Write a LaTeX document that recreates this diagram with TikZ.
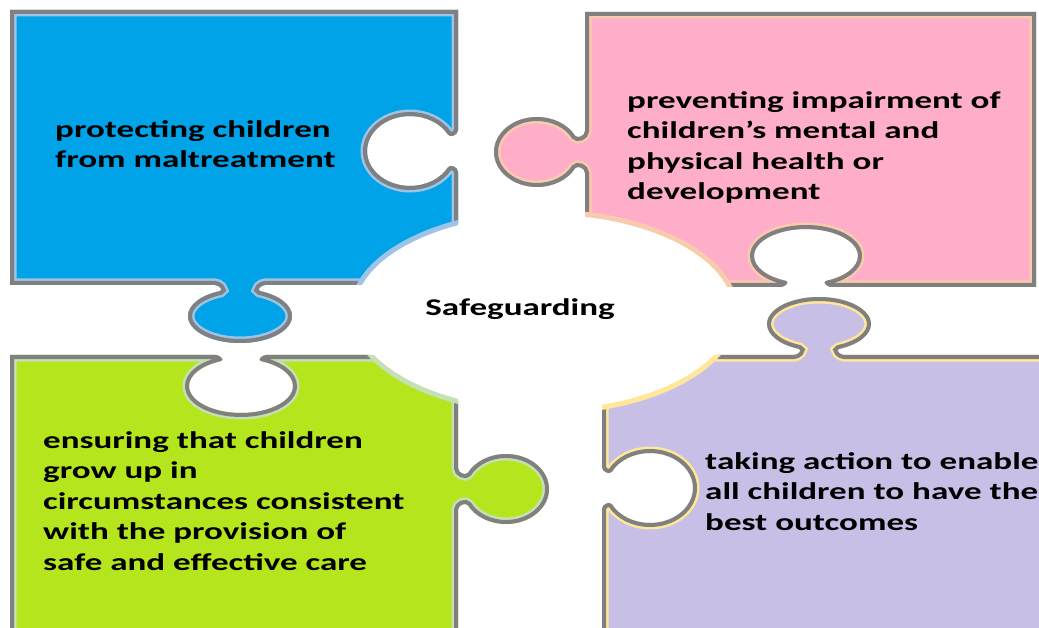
\documentclass[tikz,border=0pt]{standalone}
\usepackage{fontspec}
\newfontfamily\carl[FakeStretch=1.46]{Carlito}
\definecolor{bluec}{HTML}{00A2E8}
\definecolor{pinkc}{HTML}{FFAEC9}
\definecolor{greenc}{HTML}{B5E61D}
\definecolor{purplec}{HTML}{C8BFE7}
\definecolor{bluel}{HTML}{9DC3E6}
\definecolor{pinkl}{HTML}{F8CBAD}
\definecolor{greenl}{HTML}{C5E0B4}
\definecolor{purplel}{HTML}{FFE699}
\definecolor{edgegray}{HTML}{808080}
\tikzset{
 vf/.style n args={4}{insert path={
  -- ({#1}, {#2+(#3)*(-21)})
  .. controls ({#1}, {#2+(#3)*(-16)}) and ({#1+(#4)*7.8}, {#2+(#3)*(-13)}) .. ({#1+(#4)*10}, {#2+(#3)*(-16.4)})
  .. controls ({#1+(#4)*17.4}, {#2+(#3)*(-27.8)}) and ({#1+(#4)*32.1}, {#2+(#3)*(-35)}) .. ({#1+(#4)*48}, {#2+(#3)*(-35)})
  .. controls ({#1+(#4)*71.7}, {#2+(#3)*(-35)}) and ({#1+(#4)*91}, {#2+(#3)*(-19.3)}) .. ({#1+(#4)*91}, {#2})
  .. controls ({#1+(#4)*91}, {#2+(#3)*19.3}) and ({#1+(#4)*71.7}, {#2+(#3)*35}) .. ({#1+(#4)*48}, {#2+(#3)*35})
  .. controls ({#1+(#4)*32.1}, {#2+(#3)*35}) and ({#1+(#4)*17.4}, {#2+(#3)*27.8}) .. ({#1+(#4)*10}, {#2+(#3)*16.4})
  .. controls ({#1+(#4)*7.8}, {#2+(#3)*13}) and ({#1}, {#2+(#3)*16}) .. ({#1}, {#2+(#3)*21})
 }},
 hf/.style n args={4}{insert path={
  -- ({#1+(#3)*(-25)}, {#2})
  .. controls ({#1+(#3)*(-21)}, {#2}) and ({#1+(#3)*(-16.1)}, {#2+(#4)*5.25}) .. ({#1+(#3)*(-20)}, {#2+(#4)*6.1})
  .. controls ({#1+(#3)*(-39.4)}, {#2+(#4)*10.3}) and ({#1+(#3)*(-52)}, {#2+(#4)*20.1}) .. ({#1+(#3)*(-52)}, {#2+(#4)*31})
  .. controls ({#1+(#3)*(-52)}, {#2+(#4)*45.9}) and ({#1+(#3)*(-28.7)}, {#2+(#4)*58}) .. ({#1}, {#2+(#4)*58})
  .. controls ({#1+(#3)*28.7}, {#2+(#4)*58}) and ({#1+(#3)*52}, {#2+(#4)*45.9}) .. ({#1+(#3)*52}, {#2+(#4)*31})
  .. controls ({#1+(#3)*52}, {#2+(#4)*20.1}) and ({#1+(#3)*39.4}, {#2+(#4)*10.3}) .. ({#1+(#3)*20}, {#2+(#4)*6.1})
  .. controls ({#1+(#3)*16.1}, {#2+(#4)*5.25}) and ({#1+(#3)*21}, {#2}) .. ({#1+(#3)*25}, {#2})
 }},
 lbl/.style={anchor=base west, inner sep=0pt, align=left, text=black,
   font=\carl\bfseries\fontsize{24}{30.5}\selectfont},
 hub/.style={inner sep=0pt, text=black, font=\carl\bfseries\fontsize{24}{30.5}\selectfont},
 rim/.style={line width=13pt},
 rimgray/.style={line width=8pt, draw=edgegray},
 arcline/.style={line width=5pt}
}
\def\bluepath{(10,10) -- (458,10) [vf={458}{151}{1}{-1}] -- (458,285) [hf={240}{285}{-1}{1}] -- (10,285) -- cycle}
\def\pinkpath{(585,12) -- (1036,12) -- (1036,287) [hf={806}{287}{-1}{-1}] -- (585,287) [vf={585}{152}{-1}{-1}] -- cycle}
\def\purplepath{(602,355) [hf={819}{355}{1}{-1}] -- (1060,355) -- (1060,650) -- (602,650) [vf={602}{488}{-1}{1}] -- cycle}
\def\greenpath{(10,355) [hf={241}{355}{1}{1}] -- (458,355) [vf={458}{489}{1}{1}] -- (458,650) -- (10,650) -- cycle}
\def\hubshape{(544,312) ellipse [x radius=192pt, y radius=100pt]}
\begin{document}
\begin{tikzpicture}[x=1pt, y=-1pt]
\path[use as bounding box] (0,0) rectangle (1039,628);
\begin{scope}
\clip (0,0) rectangle (1039,628);
% pieces
\fill[bluec] \bluepath;
\begin{scope}\clip \bluepath; \draw[rim, bluel] \bluepath; \draw[rimgray] \bluepath; \end{scope}
\fill[pinkc] \pinkpath;
\begin{scope}\clip \pinkpath; \draw[rim, pinkl] \pinkpath; \draw[rimgray] \pinkpath; \end{scope}
\fill[greenc] \greenpath;
\begin{scope}\clip \greenpath; \draw[rim, greenl] \greenpath; \draw[rimgray] \greenpath; \end{scope}
\fill[purplec] \purplepath;
\begin{scope}\clip \purplepath; \draw[rim, purplel] \purplepath; \draw[rimgray] \purplepath; \end{scope}
% central hub
\fill[white] \hubshape;
\begin{scope}\clip \bluepath; \draw[arcline, bluel] \hubshape; \end{scope}
\begin{scope}\clip \pinkpath; \draw[arcline, pinkl] \hubshape; \end{scope}
\begin{scope}\clip \greenpath; \draw[arcline, greenl] \hubshape; \end{scope}
\begin{scope}\clip \purplepath; \draw[arcline, purplel] \hubshape; \end{scope}
\end{scope}
% labels (base anchor = baseline of the last line)
\node[lbl] (tblue) at (55,168) {protecting children\\from maltreatment};
\node[lbl] (tpink) at (627,200) {preventing impairment of\\children’s mental and\\physical health or\\development};
\node[lbl] (tgreen) at (43,570) {ensuring that children\\grow up in\\circumstances consistent\\with the provision of\\safe and effective care};
\node[lbl] (tpurple) at (705,530) {taking action to enable\\all children to have the\\best outcomes};
\node[hub, anchor=base] (thub) at (520,316) {Safeguarding};
\end{tikzpicture}
\end{document}
